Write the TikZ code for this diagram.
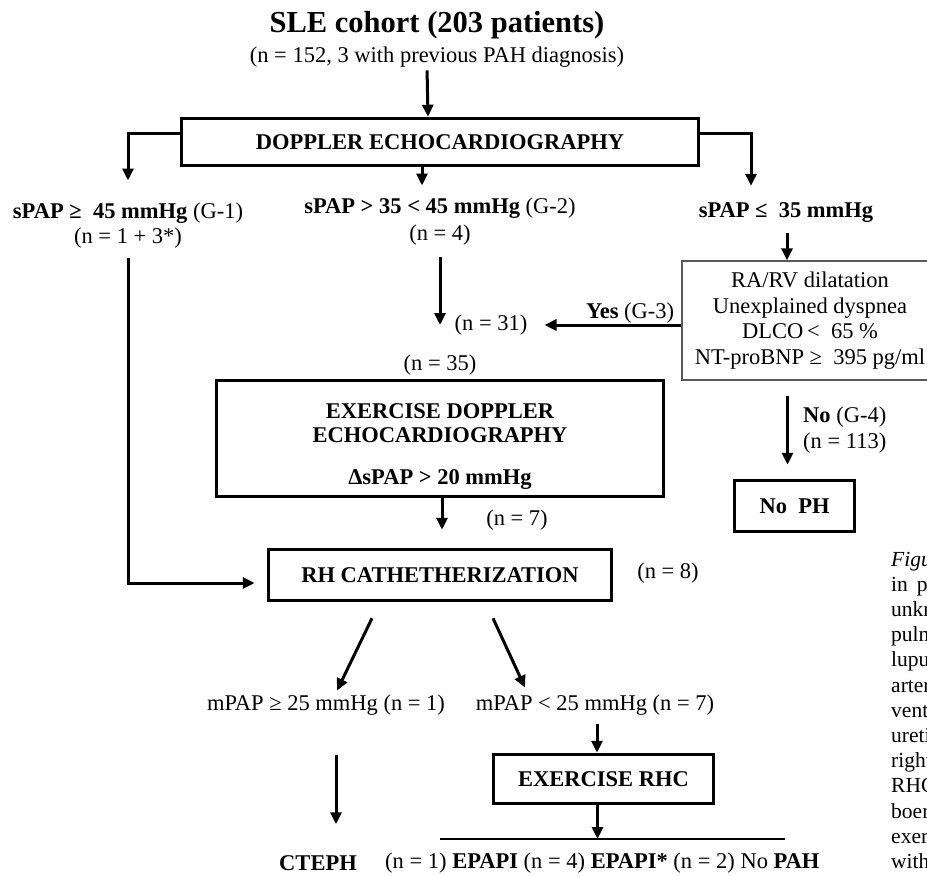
\documentclass[tikz,border=0pt]{standalone}
\usepackage{fontspec}
\setmainfont{Liberation Serif}
\usetikzlibrary{arrows.meta}

\begin{document}
\begin{tikzpicture}[
    x=1pt, y=-1pt,
    every node/.style={inner sep=0pt, align=center, font=\fontsize{22.5}{25.5}\selectfont},
    box/.style={draw, line width=3.5pt, font=\fontsize{22.5}{25.5}\selectfont\bfseries},
    critbox/.style={draw=black!65, line width=1.3pt},
    arr/.style={draw, line width=3pt, -{Triangle[length=12pt,width=11pt]}},
    capline/.style={anchor=base west, font=\fontsize{21.5}{24}\selectfont}
]
    \clip (0,0) rectangle (927,876);

    \node[font=\fontsize{30.5}{34}\selectfont\bfseries] (title) at (437,25) {SLE cohort (203 patients)};
    \node (sub) at (437,57) {(n = 152, 3 with previous PAH diagnosis)};
    \node[box, minimum width=517, minimum height=47] (dop) at (440,142) {DOPPLER ECHOCARDIOGRAPHY};

    \node (g1) at (128,213) {\textbf{sPAP ≥\ \ 45 mmHg} (G-1)};
    \node (g1n) at (128,238) {(n = 1 + 3*)};
    \node (g2) at (440,208) {\textbf{sPAP > 35 < 45 mmHg} (G-2)};
    \node (g2n) at (440,235) {(n = 4)};
    \node (g3) at (786,213) {\textbf{sPAP ≤\ \ 35 mmHg}};

    \node[critbox, minimum width=256, minimum height=119] (crit) at (810,320.5)
        {RA/RV dilatation\\Unexplained dyspnea\\DLCO\,<\ \ 65 \%\\NT-proBNP ≥\ \ 395 pg/ml};
    \node[anchor=south east] (yes) at ([xshift=-7pt,yshift=-3pt]crit.west) {\textbf{Yes} (G-3)};
    \node (n31) at (491,325) {(n = 31)};
    \node (n35) at (440,365) {(n = 35)};

    \node[box, minimum width=447, minimum height=116] (exd) at (440,438.5) {};
    \node[font=\fontsize{22.5}{24}\selectfont\bfseries] (exdtxt) at (440,447)
        {EXERCISE DOPPLER\\ECHOCARDIOGRAPHY\\[18pt]ΔsPAP > 20 mmHg};
    \node (n7) at (517,520) {(n = 7)};

    \node[box, minimum width=343, minimum height=51] (rhc) at (440,575) {RH CATHETHERIZATION};
    \node (n8) at (668,573) {(n = 8)};

    \node[anchor=west, align=left] (g4) at (803,430) {\textbf{No} (G-4)\\(n = 113)};
    \node[box, minimum width=120, minimum height=51] (noph) at (794.5,506) {No\ \ PH};

    \node (mge) at (326,705) {mPAP ≥ 25 mmHg (n = 1)};
    \node (mlt) at (595,705) {mPAP < 25 mmHg (n = 7)};
    \node[box, minimum width=220, minimum height=49] (exrhc) at (603.5,779) {EXERCISE RHC};

    \coordinate (bl) at (440,839);
    \coordinate (br) at (785,839);
    \node[font=\fontsize{22.5}{25.5}\selectfont\bfseries] (cteph) at (318,863) {CTEPH};
    \node[anchor=west] (res) at (385,863)
        {(n = 1) \textbf{EPAPI} (n = 4) \textbf{EPAPI*} (n = 2) No \textbf{PAH}};

    \draw[arr, shorten <=3pt] ([xshift=-10pt]sub.south) -- ([xshift=-12pt]dop.north);
    \draw[arr, shorten >=22pt] ([yshift=9pt]dop.west) -| (g1.north);
    \draw[arr, shorten >=12pt] ([xshift=-18pt]dop.south) -- ([xshift=-18pt]g2.north);
    \draw[arr, shorten >=17pt] ([yshift=9pt]dop.east) -| ([xshift=-35pt]g3.north);
    \draw[arr, shorten <=10pt] ([xshift=1pt]g3.south) -- ([xshift=1pt]g3.south |- crit.north);

    \draw[arr, shorten >=17pt] ([yshift=-4.5pt]crit.west) -- (n31.east);
    \draw[arr, shorten <=12pt] (g2n.south) -- (g2n.south |- n31.west);

    \draw[arr, shorten >=18pt] ([xshift=2pt]exd.south) -- ([xshift=2pt]rhc.north);
    \draw[arr, shorten <=10pt, shorten >=12pt] (g1n.south) |- ([yshift=-8pt]rhc.west);

    \draw[arr, shorten <=15pt, shorten >=14pt] ([xshift=-7pt]noph.north |- crit.south) -- ([xshift=-7pt]noph.north);

    \draw[arr] ([xshift=-68pt,yshift=-16pt]rhc.south) -- ([xshift=11pt,yshift=4pt]mge.north);
    \draw[arr] ([xshift=53pt,yshift=-16pt]rhc.south) -- ([xshift=-70pt,yshift=7pt]mlt.north);
    \draw[arr, shorten <=40pt, shorten >=31pt] ([xshift=10pt]mge.south) -- ([xshift=10pt]mge.south |- cteph.north);
    \draw[arr, shorten <=9pt] ([xshift=2pt]mlt.south) -- ([xshift=2pt]mlt.south |- exrhc.north);
    \draw[arr] ([xshift=-6pt]exrhc.south) -- ([xshift=-6pt]exrhc.south |- bl);
    \draw[line width=1.5pt] (bl) -- (br);

    \foreach \w [count=\i from 0] in {\textit{Figu}, in\hspace{9pt}p, unkn, pulm, lupu, arter, vent, ureti, right, RHC, boer, exerc, with}
        \node[capline] (cap\i) at (891,566+25.2*\i) {\w};
\end{tikzpicture}
\end{document}
